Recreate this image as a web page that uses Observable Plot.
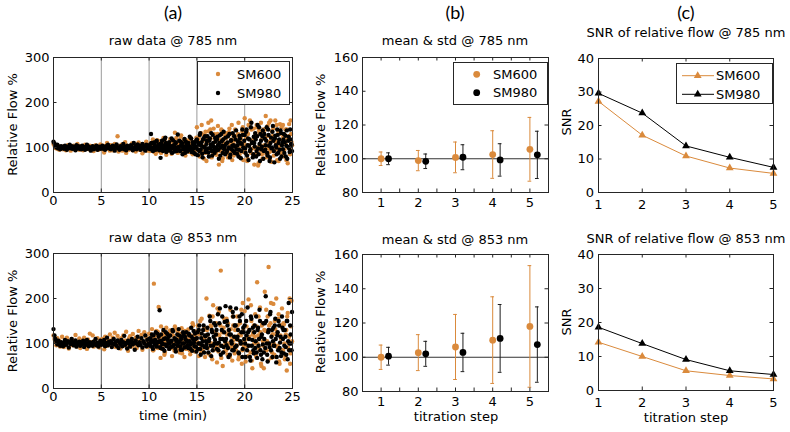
<!DOCTYPE html>
<html><head><meta charset="utf-8">
<script src="https://cdn.jsdelivr.net/npm/d3@7"></script>
<script src="https://cdn.jsdelivr.net/npm/@observablehq/plot@0.6"></script>
<style>
html,body{margin:0;padding:0;background:#fff;}
#fig{position:relative;width:790px;height:432px;overflow:hidden;background:#fff;}
</style></head><body><div id="fig"></div>
<script>
// ---------------- DATA ----------------
const seriesNames = ["SM600", "SM980"];
const rawTimeStepMin = 0.1;           // one sample every 0.1 min
const rawStartMin = 0;                // main samples start at 0 min
const rawLateStartMin = 10.05;        // extra samples (denser late period) start here
const rawXTicks = [0, 5, 10, 15, 20, 25];
const rawYTicks = [0, 100, 200, 300];
const rawGridX = [5, 10, 15, 20];
const steps = [1, 2, 3, 4, 5];
const stepMinorTicks = [1, 1.5, 2, 2.5, 3, 3.5, 4, 4.5, 5];
const meanYTicks = [80, 100, 120, 140, 160];
const snrYTicks = [0, 10, 20, 30, 40];
const refLine = [100];

// raw data @ 785 nm (relative flow %, one row = 1 min)
const raw785_SM600 = [
108,104,99,103,97,101,95,102,98,100,
96,103,99,94,101,105,98,100,93,102,
99,104,96,101,97,108,100,95,103,98,
101,94,99,106,97,102,100,96,104,99,
97,103,92,100,105,98,101,95,99,107,
100,96,104,89,102,98,110,97,101,93,
105,99,94,102,108,96,100,125,91,103,
98,106,93,101,97,112,88,104,99,95,
102,97,109,94,100,106,91,103,98,111,
95,104,99,87,107,101,96,113,93,100,
105,92,110,99,118,95,103,86,108,97,
101,114,90,106,98,121,94,102,84,109,
96,107,119,91,104,100,112,133,95,102,
88,110,98,124,93,105,116,99,82,107,
113,97,104,90,120,101,94,109,86,115,
145,95,122,80,110,150,100,128,88,135,
70,118,155,96,140,160,104,85,130,112,
125,92,148,62,115,100,138,76,120,108,
94,132,110,84,142,99,118,72,128,105,
140,88,115,130,97,78,122,108,145,90,
165,102,135,75,150,118,92,140,110,82,
62,128,96,145,60,138,105,155,85,120,
132,100,170,78,148,112,90,160,68,125,
143,95,160,115,72,135,102,152,88,118,
150,80,128,108,140,65,125,98,160,112];
const raw785_SM600_late = [
100,94,108,97,113,90,104,99,116,92,
107,97,88,112,101,95,118,104,91,100,
94,110,102,86,115,98,106,92,121,103,
112,96,105,127,90,101,109,94,117,99,
104,91,117,99,108,85,112,100,95,122,
96,118,83,108,132,92,115,75,104,125,
110,88,136,98,120,78,105,142,90,116,
84,130,102,118,92,140,70,112,98,128,
120,96,78,134,105,88,150,110,82,117,
100,126,92,155,85,118,104,135,72,110,
95,122,70,130,105,160,88,115,98,142,
120,85,150,100,65,132,94,118,75,140,
105,140,86,125,98,155,72,118,136,92,
82,125,110,150,95,70,130,105,145,88,
125,95,140,72,118,100,152,85,130,105];
const raw785_SM980 = [
113,109,104,100,106,98,102,96,103,99,
101,97,104,99,95,102,100,106,98,103,
97,102,100,94,105,99,103,97,101,96,
104,98,101,95,100,106,97,102,99,93,
100,103,96,101,98,104,95,100,102,97,
99,104,97,101,95,103,100,106,98,102,
96,101,104,98,93,102,107,99,100,95,
103,97,100,108,96,101,94,104,99,102,
98,105,101,94,110,99,103,96,107,100,
104,95,100,108,97,102,93,106,99,101,
97,107,130,99,92,111,103,95,115,100,
106,94,77,109,101,96,118,122,90,104,
99,112,95,103,88,116,105,97,110,92,
129,101,94,113,107,85,100,119,96,108,
91,110,103,97,120,94,106,88,112,101,
118,83,106,128,95,112,78,120,102,90,
108,125,89,115,99,132,82,110,96,121,
93,118,105,75,127,100,114,88,135,103,
122,90,111,97,130,84,116,104,92,125,
102,138,86,113,95,120,76,108,128,99,
128,88,140,105,72,118,96,155,112,85,
110,132,80,125,98,145,70,115,102,138,
92,120,105,145,82,128,70,110,98,135,
115,67,126,100,140,88,118,75,132,105,
96,130,112,80,138,102,124,90,118,106];
const raw785_SM980_late = [
103,96,110,99,94,106,101,113,97,105,
95,108,100,115,92,104,98,110,102,96,
107,93,100,120,98,104,91,112,100,95,
98,115,92,104,110,96,102,88,113,100,
108,95,124,100,90,112,98,105,85,116,
96,110,92,132,104,86,118,100,125,94,
115,98,80,120,106,92,128,102,88,113,
100,124,95,110,82,130,104,118,96,85,
108,92,125,100,78,115,96,132,105,88,
118,96,105,80,126,110,92,140,100,115,
98,135,82,120,104,92,145,110,78,124,
102,118,92,150,85,108,130,96,125,75,
130,95,115,88,140,104,78,122,100,148,
92,120,105,85,128,110,95,138,80,112,
118,88,126,104,75,115,98,140,108,92];

// raw data @ 853 nm
const raw853_SM600 = [
118,110,104,96,112,99,107,93,102,115,
100,92,108,97,113,103,89,105,99,110,
96,106,101,119,94,103,98,111,90,104,
107,99,113,95,102,88,109,100,122,97,
103,118,93,106,100,96,112,99,91,108,
98,110,102,87,115,104,95,108,100,120,
106,94,113,99,124,92,104,117,97,109,
89,112,101,118,95,107,126,98,84,111,
116,100,93,121,105,98,113,90,108,128,
97,110,119,86,104,125,99,114,92,107,
122,95,110,132,85,233,104,118,91,126,
181,100,68,115,92,127,75,108,135,98,
110,88,129,102,72,118,95,138,106,84,
125,99,80,114,134,93,108,70,121,102,
88,131,105,76,118,96,140,110,82,127,
105,140,72,120,96,155,85,130,110,92,
200,118,78,162,100,138,65,185,125,90,
145,58,120,170,95,262,110,50,135,82,
102,155,75,128,92,175,115,62,140,98,
130,85,160,108,70,145,118,55,190,96,
172,60,138,95,198,115,80,150,45,125,
100,165,70,236,118,90,180,55,140,105,
45,215,128,85,160,270,98,145,68,120,
188,75,132,200,92,155,60,140,110,178,
85,142,65,120,40,168,100,200,78,195];
const raw853_SM600_late = [
100,120,92,108,85,115,98,128,104,90,
112,95,138,88,105,120,80,100,116,94,
98,125,106,90,118,100,84,132,95,112,
108,90,122,102,78,116,97,128,88,110,
120,100,85,112,96,145,104,90,118,98,
88,125,100,150,80,112,95,135,70,118,
130,90,108,75,140,100,160,85,115,95,
100,178,82,118,140,68,125,95,155,110,
85,120,145,100,70,132,92,160,108,78,
115,95,140,65,120,100,175,85,130,105,
90,150,110,72,130,95,185,62,120,140,
115,75,138,100,160,85,125,50,145,95,
130,88,175,105,62,140,95,190,80,120,
100,150,70,125,95,165,55,118,140,85,
145,100,72,130,160,90,115,55,138,105];
const raw853_SM980 = [
132,118,110,104,98,106,101,95,103,99,
94,102,108,97,100,105,91,103,99,110,
103,96,100,107,93,101,98,104,95,102,
99,106,92,101,97,108,100,94,103,98,
101,95,104,99,110,96,102,93,100,106,
97,103,99,108,94,101,113,96,104,100,
105,92,100,110,98,103,95,107,90,102,
99,108,94,103,117,97,101,89,106,100,
93,104,110,98,102,86,107,100,115,96,
103,97,112,91,105,100,118,94,108,99,
110,95,104,120,88,107,98,125,93,102,
115,174,90,106,99,130,84,112,97,121,
100,88,118,105,93,127,97,110,82,108,
95,132,104,86,114,100,120,91,109,125,
104,90,118,97,135,84,110,102,122,93,
112,88,130,100,75,122,105,140,92,116,
98,135,80,110,150,72,125,95,145,108,
120,88,165,102,178,75,130,110,92,148,
183,96,140,70,120,180,105,85,160,115,
92,178,110,130,78,150,100,165,88,125,
140,70,118,180,95,130,62,155,108,85,
125,90,160,68,135,110,150,75,120,98,
80,145,205,100,60,130,92,170,115,70,
135,95,155,58,118,85,140,102,72,160,
110,78,130,92,150,65,190,100,120,85];
const raw853_SM980_late = [
98,112,104,92,118,100,108,95,122,103,
105,92,120,100,88,110,98,125,94,108,
115,100,92,106,130,96,112,88,104,120,
102,118,94,110,86,125,100,115,92,106,
96,122,105,88,115,100,128,94,110,82,
125,100,140,88,112,96,130,80,118,105,
90,120,105,160,95,130,85,115,100,140,
130,100,85,145,110,95,160,80,125,105,
110,150,90,130,75,120,100,170,85,140,
140,95,115,80,160,105,125,70,135,110,
100,150,85,125,110,70,160,95,135,78,
140,105,80,130,95,175,85,115,65,145,
110,90,150,75,125,100,165,85,130,105,
95,140,110,70,125,150,90,115,80,135,
130,95,115,75,150,105,85,140,100,170];

// mean & std per titration step
const mean785_SM600 = [100, 98.9, 100.8, 102.5, 105.6];
const std785_SM600  = [4.0, 6.0, 9.1, 14.1, 18.9];
const mean785_SM980 = [100, 98.5, 100.9, 99.3, 102.3];
const std785_SM980  = [3.5, 4.3, 7.4, 9.6, 14.0];
const mean853_SM600 = [100, 102.7, 106, 110, 118];
const std853_SM600  = [7.1, 10.5, 19, 25.3, 35.5];
const mean853_SM980 = [100.6, 102, 102.8, 111, 107.4];
const std853_SM980  = [5.2, 7.3, 11.2, 19.8, 22];

// SNR per titration step
const snr785_SM600 = [27.2, 17.1, 10.9, 7.3, 5.7];
const snr785_SM980 = [29.6, 23.7, 13.9, 10.5, 7.5];
const snr853_SM600 = [14.2, 10.0, 5.8, 4.4, 3.4];
const snr853_SM980 = [18.6, 13.8, 9.1, 5.8, 4.7];

// ---------------- STYLE ----------------
const FONT = "DejaVu Sans, sans-serif";
const ORANGE = "#DA8A3C";
const BLACK = "#000000";
const FRAME = "#262626";
const DODGE = 0.2;
const CAP = 0.05;
const fmt = d => String(d);

const fig = document.getElementById("fig");

function panel({fx, fy, W, H, x, y, marks, xTicks, yTicks, xTickMarks, yTickMarks, xPad = 3, yPad = 4}) {
  const ml = 40, mr = 14, mt = 10, mb = 24, tl = 3.5;
  const inner = [
    Plot.tickX(xTickMarks, {x: d => d, insetTop: H - tl, stroke: FRAME}),
    Plot.tickX(xTickMarks, {x: d => d, insetBottom: H - tl, stroke: FRAME}),
    Plot.tickY(yTickMarks, {y: d => d, insetRight: W - tl, stroke: FRAME}),
    Plot.tickY(yTickMarks, {y: d => d, insetLeft: W - tl, stroke: FRAME})
  ];
  const svg = Plot.plot({
    width: W + ml + mr, height: H + mt + mb,
    marginLeft: ml, marginRight: mr, marginTop: mt, marginBottom: mb,
    style: {background: "transparent", fontFamily: FONT, fontSize: "13px", color: "#000", overflow: "visible"},
    x: {...x, ticks: xTicks, tickFormat: fmt, tickSize: 0, tickPadding: xPad, label: null},
    y: {...y, ticks: yTicks, tickFormat: fmt, tickSize: 0, tickPadding: yPad, label: null},
    marks: [...marks, ...inner, Plot.frame({stroke: FRAME})]
  });
  svg.style.position = "absolute";
  svg.style.left = (fx - ml) + "px";
  svg.style.top = (fy - mt) + "px";
  fig.appendChild(svg);
}

const toPts = (arr, t0) => arr.map((v, i) => ({t: +(t0 + i * rawTimeStepMin).toFixed(2), v}));
function rawPanel(fy, H, s600, s600late, s980, s980late, gridColor) {
  const p600 = toPts(s600, rawStartMin).concat(toPts(s600late, rawLateStartMin));
  const p980 = toPts(s980, rawStartMin).concat(toPts(s980late, rawLateStartMin));
  panel({fx: 53, fy, W: 239, H, xPad: 3,
    x: {domain: [0, 25]}, y: {domain: [0, 300]},
    xTicks: rawXTicks, yTicks: rawYTicks, xTickMarks: rawXTicks, yTickMarks: rawYTicks,
    marks: [
      Plot.ruleX(rawGridX, {stroke: gridColor}),
      Plot.dot(p600, {x: "t", y: "v", r: 2.2, fill: ORANGE}),
      Plot.dot(p980, {x: "t", y: "v", r: 2.2, fill: BLACK})
    ]});
}

function meanPanel(fy, H, m600, s600, m980, s980) {
  const rows = (m, s, off) => steps.map((k, i) => ({x: k + off, m: m[i], lo: m[i] - s[i], hi: m[i] + s[i]}));
  const r600 = rows(m600, s600, 0), r980 = rows(m980, s980, DODGE);
  const bars = (r, c) => [
    Plot.ruleX(r, {x: "x", y1: "lo", y2: "hi", stroke: c}),
    Plot.ruleY(r, {y: "lo", x1: d => d.x - CAP, x2: d => d.x + CAP, stroke: c}),
    Plot.ruleY(r, {y: "hi", x1: d => d.x - CAP, x2: d => d.x + CAP, stroke: c})
  ];
  panel({fx: 362, fy, W: 186, H, xPad: 5,
    x: {domain: [0.5, 5.5]}, y: {domain: [80, 160]},
    xTicks: steps, yTicks: meanYTicks, xTickMarks: stepMinorTicks, yTickMarks: meanYTicks,
    marks: [
      Plot.ruleY(refLine, {stroke: "#333"}),
      ...bars(r600, ORANGE),
      ...bars(r980, "#1e1e1e"),
      Plot.dot(r600, {x: "x", y: "m", r: 3.4, fill: ORANGE}),
      Plot.dot(r980, {x: "x", y: "m", r: 3.4, fill: BLACK})
    ]});
}

function snrPanel(fy, H, a600, a980) {
  const pts = arr => steps.map((k, i) => ({x: k, v: arr[i]}));
  panel({fx: 598, fy, W: 175, H, yPad: 4.5, xPad: 7,
    x: {domain: [1, 5]}, y: {domain: [0, 40]},
    xTicks: steps, yTicks: snrYTicks, xTickMarks: steps, yTickMarks: snrYTicks,
    marks: [
      Plot.line(pts(a600), {x: "x", y: "v", stroke: ORANGE, strokeWidth: 1}),
      Plot.dot(pts(a600), {x: "x", y: "v", symbol: "triangle", r: 2.9, fill: ORANGE}),
      Plot.line(pts(a980), {x: "x", y: "v", stroke: BLACK, strokeWidth: 1}),
      Plot.dot(pts(a980), {x: "x", y: "v", symbol: "triangle", r: 2.9, fill: BLACK})
    ]});
}

rawPanel(57, 135, raw785_SM600, raw785_SM600_late, raw785_SM980, raw785_SM980_late, "#9a9a9a");
rawPanel(253, 135, raw853_SM600, raw853_SM600_late, raw853_SM980, raw853_SM980_late, "#555");
meanPanel(57, 135, mean785_SM600, std785_SM600, mean785_SM980, std785_SM980);
meanPanel(254, 137, mean853_SM600, std853_SM600, mean853_SM980, std853_SM980);
snrPanel(58, 134, snr785_SM600, snr785_SM980);
snrPanel(254, 136, snr853_SM600, snr853_SM980);

// ---------------- TEXT & LEGENDS (overlay) ----------------
const ov = d3.create("svg").attr("width", 790).attr("height", 432)
  .style("position", "absolute").style("left", "0px").style("top", "0px").style("overflow", "visible");
function label(x, y, s, o = {}) {
  const t = ov.append("text").attr("x", x).attr("y", y).text(s)
    .attr("text-anchor", o.anchor || "middle")
    .attr("font-family", o.family || FONT)
    .attr("font-size", o.size || 13)
    .attr("fill", "#000");
  if (o.rotate) t.attr("transform", `rotate(${o.rotate},${x},${y})`);
  if (o.baseline) t.attr("dominant-baseline", o.baseline);
  return t;
}
const LETTER = {family: "Lato, sans-serif", size: 18};
label(173, 19, "(a)", LETTER);
label(455, 19, "(b)", LETTER);
label(686, 19, "(c)", LETTER);

label(173, 45, "raw data @ 785 nm");
label(455, 45, "mean & std @ 785 nm");
label(686, 37, "SNR of relative flow @ 785 nm");
label(173, 242, "raw data @ 853 nm");
label(455, 244, "mean & std @ 853 nm");
label(686, 243, "SNR of relative flow @ 853 nm");

label(16.5, 124.5, "Relative Flow %", {rotate: -90});
label(16.5, 321, "Relative Flow %", {rotate: -90});
label(325, 125, "Relative Flow %", {rotate: -90});
label(325, 322, "Relative Flow %", {rotate: -90});
label(571, 122, "SNR", {rotate: -90});
label(571, 322, "SNR", {rotate: -90});

label(173, 420, "time (min)");
label(456, 421, "titration step");
label(686, 422, "titration step");

const colors = [ORANGE, BLACK];
function legendBox(x, y, w, h) {
  ov.append("rect").attr("x", x + 0.5).attr("y", y + 0.5).attr("width", w).attr("height", h)
    .attr("fill", "#fff").attr("stroke", FRAME);
}
// (a)
legendBox(197, 61, 92, 43);
[74, 93].forEach((cy, i) => {
  ov.append("circle").attr("cx", 218).attr("cy", cy).attr("r", 2.2).attr("fill", colors[i]);
  label(237, cy, seriesNames[i], {anchor: "start", baseline: "central"});
});
// (b)
legendBox(453, 62, 94, 42);
[74.3, 92.7].forEach((cy, i) => {
  ov.append("circle").attr("cx", 476.7).attr("cy", cy).attr("r", 3.4).attr("fill", colors[i]);
  label(493, cy, seriesNames[i], {anchor: "start", baseline: "central"});
});
// (c)
legendBox(676, 63, 96, 40);
const tri = d3.symbol(d3.symbolTriangle, 2.9 * 2.9 * Math.PI);
[75.7, 94.3].forEach((cy, i) => {
  ov.append("line").attr("x1", 682).attr("x2", 714).attr("y1", cy).attr("y2", cy).attr("stroke", colors[i]);
  ov.append("path").attr("d", tri()).attr("transform", `translate(697.7,${cy})`).attr("fill", colors[i]);
  label(716, cy, seriesNames[i], {anchor: "start", baseline: "central"});
});
fig.appendChild(ov.node());
</script></body></html>
